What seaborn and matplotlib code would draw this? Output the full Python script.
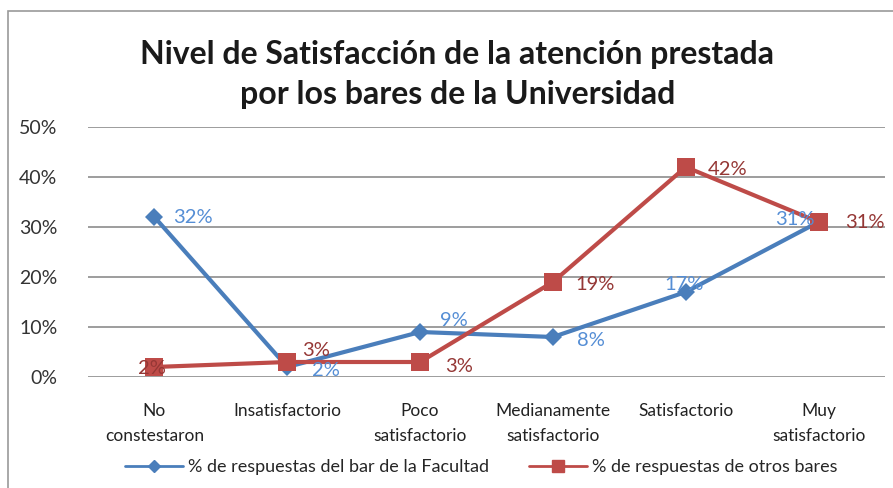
import numpy as np
import pandas as pd
import seaborn as sns
from matplotlib import pyplot as plt
from matplotlib.lines import Line2D
from matplotlib.patches import Rectangle

# Data
categories = [
    "No\nconstestaron",
    "Insatisfactorio",
    "Poco\nsatisfactorio",
    "Medianamente\nsatisfactorio",
    "Satisfactorio",
    "Muy\nsatisfactorio",
]
facultad = [0.32, 0.02, 0.09, 0.08, 0.17, 0.31]
otros = [0.02, 0.03, 0.03, 0.19, 0.42, 0.31]
serie_facultad = "% de respuestas del bar de la Facultad"
serie_otros = "% de respuestas de otros bares"
yticks = [0, 0.1, 0.2, 0.3, 0.4, 0.5]

# Label offsets in pixels (dx, dy), mimicking the original placement
off_facultad = [(19, 0), (25, -4), (20, 12), (24, -3), (-21, 7), (-43, 3)]
off_otros = [(-16, -1), (15, 11), (25, -5), (22, -2), (22, -2), (27, 0)]

blue, red = "#4A7EBB", "#BE4B48"
blue_lbl, red_lbl = "#558ED5", "#953735"

df = pd.DataFrame({
    "pos": list(range(len(categories))) * 2,
    "valor": facultad + otros,
    "serie": [serie_facultad] * len(categories) + [serie_otros] * len(categories),
})

sns.set_style("white")
plt.rcParams["font.family"] = ["Lato", "DejaVu Sans"]

fig = plt.figure(figsize=(8.93, 4.88), dpi=100)
ax = fig.add_axes([88 / 893, 1 - 377 / 488, (885 - 88) / 893, 250 / 488])

sns.lineplot(
    data=df, x="pos", y="valor", hue="serie", style="serie",
    markers={serie_facultad: "D", serie_otros: "s"},
    dashes=False, palette={serie_facultad: blue, serie_otros: red},
    linewidth=3, legend=False, ax=ax,
)
for ln, ms in zip(ax.lines, [9, 13]):
    ln.set_markersize(ms)
    ln.set_markeredgewidth(0)

for vals, offs, col in [(facultad, off_facultad, blue_lbl), (otros, off_otros, red_lbl)]:
    for i, (v, (dx, dy)) in enumerate(zip(vals, offs)):
        ax.annotate(f"{v:.0%}", (i, v), xytext=(dx, dy), textcoords="offset pixels",
                    ha="left", va="center", fontsize=14.5, color=col)

ax.set_xlim(-0.5, 5.5)
ax.set_ylim(0, 0.5)
ax.set_yticks(yticks)
ax.set_yticklabels([f"{t:.0%}" for t in yticks], fontsize=14, color="#333333")
ax.set_xticks(range(len(categories)))
ax.set_xticklabels(categories, fontsize=12.5, color="#222222", linespacing=1.7)
ax.tick_params(axis="y", pad=22, length=0)
ax.tick_params(axis="x", pad=19, length=0)
ax.grid(axis="y", color="#8C8C8C", linewidth=1.2)
ax.set_axisbelow(True)
for s in ax.spines.values():
    s.set_visible(False)
ax.set_xlabel("")
ax.set_ylabel("")

fig.text(0.512, 0.847, "Nivel de Satisfacción de la atención prestada\npor los bares de la Universidad",
         ha="center", va="center", fontsize=23, fontweight="bold", linespacing=1.45, color="#1a1a1a")

handles = [
    Line2D([], [], color=blue, marker="D", markersize=6, linewidth=2),
    Line2D([], [], color=red, marker="s", markersize=8, linewidth=2),
]
fig.legend(handles, [serie_facultad, serie_otros], loc="center", bbox_to_anchor=(0.539, 0.043),
           ncol=2, frameon=False, fontsize=13, handlelength=3.2, columnspacing=2.2, handletextpad=0.3)

fig.patches.append(Rectangle((8 / 893, -0.05), 1.0, 1 - 11 / 488 + 0.05, transform=fig.transFigure,
                             fill=False, edgecolor="#9A9A9A", linewidth=1.2))

fig.savefig("out.png", dpi=100)
